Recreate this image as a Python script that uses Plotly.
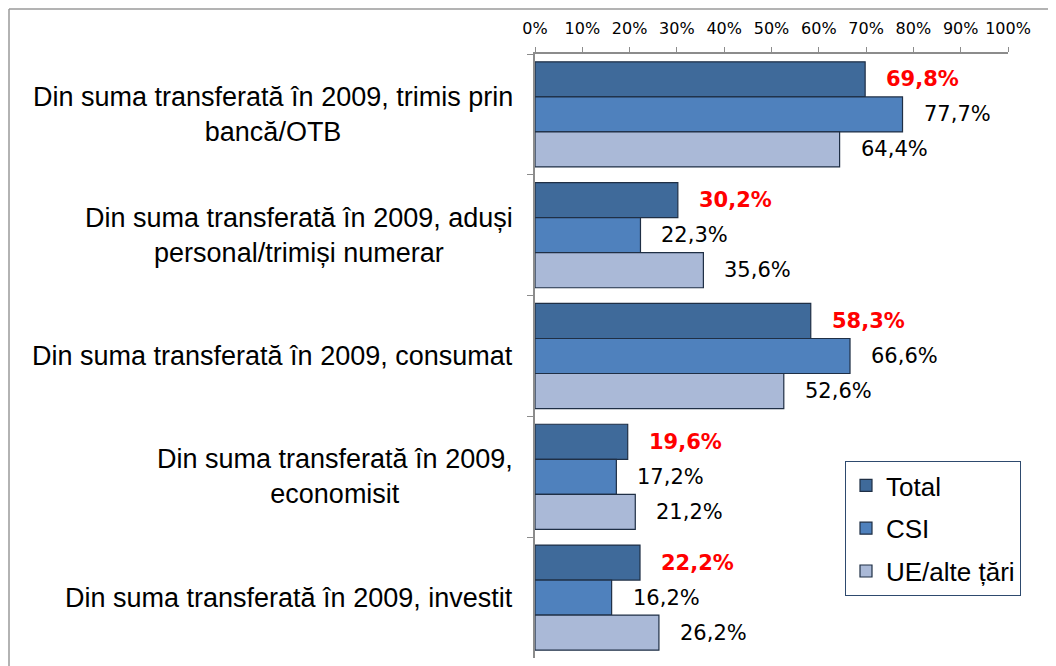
import plotly.graph_objects as go

# categories (top to bottom) and values in %
categories = [
    'Din suma transferată în 2009, trimis prin<br>bancă/OTB',
    'Din suma transferată în 2009, aduși<br>personal/trimiși numerar',
    'Din suma transferată în 2009, consumat',
    'Din suma transferată în 2009,<br>economisit',
    'Din suma transferată în 2009, investit',
]
total = [69.8, 30.2, 58.3, 19.6, 22.2]
csi = [77.7, 22.3, 66.6, 17.2, 16.2]
ue = [64.4, 35.6, 52.6, 21.2, 26.2]

series = [
    ('Total', total, '#3F6A9A'),
    ('CSI', csi, '#4F81BD'),
    ('UE/alte țări', ue, '#AAB9D7'),
]

# page shows the figure offset by the body margin (8px, 10px)
W, H = 1056, 666
ML, MR, MT, MB = 527, 56, 46, 16
pw = W - ML - MR
ph = H - MT - MB


def fmt(v):
    return f'{v:.1f}'.replace('.', ',') + '%'


fig = go.Figure()
for name, vals, col in series:
    fig.add_trace(go.Bar(
        y=categories, x=vals, name=name, orientation='h',
        marker=dict(color=col, line=dict(color='#1F2F45', width=1.2)),
        legendgroup=name,
    ))

# data labels, Total in bold red
annotations = []
offsets = [-1, 0, 1]
for (name, vals, col), off in zip(series, offsets):
    for cat, v in zip(categories, vals):
        if name == 'Total':
            txt = '<b>' + fmt(v) + '</b>'
            fc = '#FF0000'
        else:
            txt = fmt(v)
            fc = '#000000'
        annotations.append(dict(
            x=v, y=cat, xref='x', yref='y', text=txt, showarrow=False,
            xanchor='left', xshift=19, yshift=-off * 35,
            font=dict(family='DejaVu Sans', size=21, color=fc),
        ))

# category labels, centred lines, right edge near the axis
for cat in categories:
    annotations.append(dict(
        x=0, y=cat, xref='paper', yref='y', text=cat, showarrow=False,
        xanchor='right', xshift=-20, align='center',
        font=dict(family='Liberation Sans', size=27, color='#000000'),
    ))

fx = -(ML - 1) / pw
fy = 1 + (MT - 1) / ph
fig.update_layout(
    width=W, height=H,
    margin=dict(l=ML, r=MR, t=MT, b=MB, autoexpand=False),
    paper_bgcolor='white', plot_bgcolor='white',
    barmode='group', bargap=0.13, bargroupgap=0,
    annotations=annotations,
    showlegend=True,
    legend=dict(
        x=(837 - ML) / pw, y=1 - (453 - MT) / ph, xanchor='left', yanchor='top',
        bordercolor='#2E4A6E', borderwidth=1, bgcolor='white',
        font=dict(family='Liberation Sans', size=26, color='#000000'),
        tracegroupgap=6,
    ),
    shapes=[
        dict(type='line', xref='paper', yref='paper',
             x0=fx, x1=1.2, y0=fy, y1=fy,
             line=dict(color='#9A9A9A', width=1.5)),
        dict(type='line', xref='paper', yref='paper',
             x0=fx, x1=fx, y0=fy, y1=-0.2,
             line=dict(color='#9A9A9A', width=1.5)),
    ],
)

fig.update_xaxes(
    range=[0, 100], dtick=10, ticksuffix='%', side='top', automargin=False,
    tickangle=0, ticklabelstandoff=7,
    showgrid=False, zeroline=False,
    showline=True, linecolor='#8C8C8C', linewidth=2,
    ticks='outside', ticklen=5, tickcolor='#8C8C8C',
    tickfont=dict(family='DejaVu Sans', size=16, color='#000000'),
)
fig.update_yaxes(
    autorange='reversed', showticklabels=False, showgrid=False, automargin=False,
    showline=True, linecolor='#8C8C8C', linewidth=2,
    ticks='outside', ticklen=6, tickcolor='#8C8C8C', tickson='boundaries',
)

fig.write_html('out.html')
